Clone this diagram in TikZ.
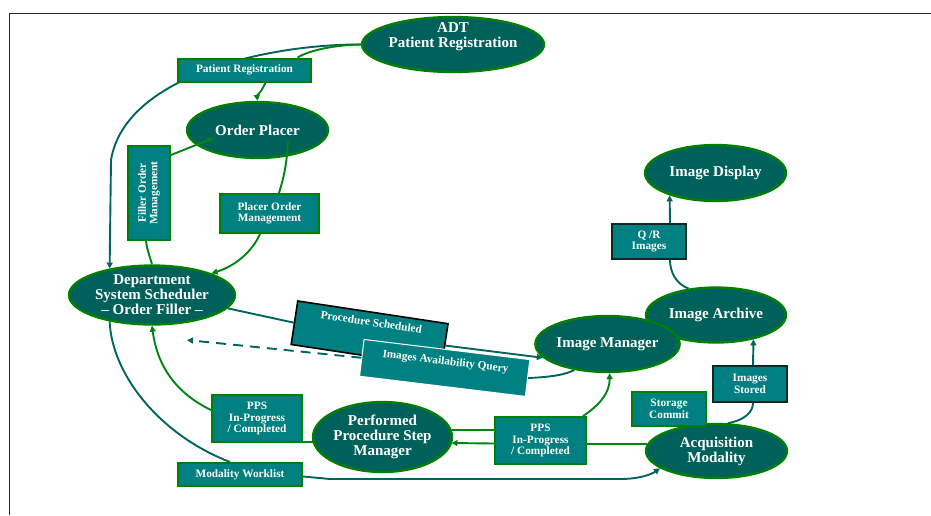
\documentclass[tikz,border=0pt]{standalone}
\usepackage{fontspec}
\setmainfont{Liberation Serif}
\usetikzlibrary{shapes.geometric,arrows.meta,calc}

\definecolor{ellfill}{RGB}{0,97,91}
\definecolor{boxfill}{RGB}{0,128,128}
\definecolor{rimgreen}{RGB}{0,128,0}
\definecolor{wireteal}{RGB}{0,102,92}
\definecolor{wiregreen}{RGB}{0,132,20}
\definecolor{darkrim}{RGB}{12,42,36}
\definecolor{framegray}{RGB}{40,40,40}

\pgfdeclarelayer{back}
\pgfsetlayers{back,main}

\begin{document}
\begin{tikzpicture}[x=1pt,y=-1pt,
  actorfont/.style={font=\bfseries\fontsize{15}{15}\selectfont},
  msgfont/.style={font=\bfseries\fontsize{11.3}{11.5}\selectfont},
  actor/.style={ellipse, draw=rimgreen, line width=2.3pt, fill=ellfill,
    text=white, inner sep=0pt, align=center, actorfont},
  msg/.style={rectangle, draw=rimgreen, line width=2pt, fill=boxfill,
    text=white, inner sep=0pt, align=center, msgfont},
  msgdark/.style={msg, draw=darkrim, line width=1.8pt},
  tealwire/.style={draw=wireteal, line width=1.9pt},
  greenwire/.style={draw=wiregreen, line width=1.9pt},
  arrowed/.style={-{Triangle[length=6pt,width=6pt]}},
]
\useasboundingbox (0,0) rectangle (931,515);

% page frame
\draw[framegray, line width=1.5pt] (9,13.5) -- (931,13.5);
\draw[framegray, line width=1.5pt] (9.5,13) -- (9.5,515);

% actors
\node[actor, minimum width=182pt, minimum height=55pt] (adt) at (453,44.5) {};
\node[text=white, actorfont, align=center] (adtlabel) at (453,37) {ADT\\Patient Registration};
\node[actor, minimum width=141pt, minimum height=56pt] (op) at (257.5,130) {Order Placer};
\node[actor, minimum width=166pt, minimum height=59pt] (dss) at (152,295) {Department\\System Scheduler\\– Order Filler –};
\node[actor, minimum width=141pt, minimum height=56pt] (disp) at (715.5,173) {Image Display};
\node[actor, minimum width=140pt, minimum height=55pt] (arch) at (716,315) {Image Archive};
\node[actor, minimum width=141pt, minimum height=56pt] (imgr) at (607.5,344) {Image Manager};
\node[actor, minimum width=139pt, minimum height=70pt] (ppsm) at (382.5,437) {Performed\\Procedure Step\\Manager};
\node[actor, minimum width=141pt, minimum height=54pt] (acq) at (716.5,451) {Acquisition\\Modality};

% transaction boxes
\node[msg, minimum width=133pt, minimum height=23pt] (bpr) at (244.5,70) {Patient Registration};
\node[msg, minimum width=42pt, minimum height=94pt] (bfom) at (149,193) {};
\node[text=white, msgfont, rotate=90, align=center] (bfomtext) at (149,193) {Filler Order\\Management};
\node[msg, minimum width=99pt, minimum height=39pt] (bpom) at (269.5,213.5) {Placer Order\\Management};
\node[msgdark, minimum width=74pt, minimum height=35pt] (bqr) at (649,241.5) {Q /R\\Images};
\node[msgdark, minimum width=74pt, minimum height=36pt] (bis) at (750,384) {Images\\Stored};
\node[msg, minimum width=74pt, minimum height=34pt] (bsc) at (669,409) {Storage\\Commit};
\node[msg, minimum width=91pt, minimum height=47pt] (bppsr) at (540.5,440.5) {PPS\\In-Progress\\/ Completed};
\node[msg, minimum width=90pt, minimum height=47pt] (bppsl) at (257,418.5) {PPS\\In-Progress\\/ Completed};
\node[msg, minimum width=124pt, minimum height=23pt] (bmw) at (240,474.5) {Modality Worklist};
\node[msg, draw=black, line width=1.6pt, rotate=-8.6, minimum width=152pt, minimum height=44pt,
  text height=7pt, text depth=23.6pt] (bps) at (369.6,334.1) {Procedure Scheduled};
\node[msg, draw=white, line width=1pt, rotate=-6.94, minimum width=167pt, minimum height=37pt,
  text height=7pt, text depth=13.4pt] (bia) at (444.7,367.9) {Images Availability Query};

% connectors running behind the boxes
\begin{pgfonlayer}{back}
\draw[tealwire, arrowed] (adt.west) .. controls (270,44) and (125,75) .. (111,160) -- (dss.148);
\draw[greenwire] (adt.west) .. controls (335,45) and (310,50) .. ($(bpr.north)+(53,0)$);
\draw[tealwire] (dss.-10) -- (bps.west);
\draw[tealwire, arrowed] (bps.east) -- (imgr.192);
\end{pgfonlayer}

% order placer / filler
\draw[greenwire, arrowed] ($(bpr.south)+(21,0)$) .. controls (262,91) and (257,96) .. (op.north);
\draw[greenwire, arrowed] ($(bfom.north east)+(0,10)$) -- ($(op.center)+(-44,8)$);
\draw[greenwire] ($(bfom.south)+(-3,0)$) .. controls (147,250) and (150,257) .. (dss.north);
\draw[greenwire] ($(op.center)+(30.5,11)$) .. controls (287,165) and (283,180) .. ($(bpom.north)+(9.5,0)$);
\draw[greenwire, arrowed] ($(bpom.south)+(-9.5,0)$) .. controls (252,252) and (235,266) .. (dss.20);

% images availability query
\coordinate (iaqend) at (187,340);
\draw[tealwire] (imgr.218) .. controls (565,375) and (550,377) .. (bia.east);
\draw[tealwire, dash pattern=on 10pt off 7pt, arrowed] (bia.west) -- (iaqend);

% archive and display
\draw[tealwire] (arch.136) .. controls (676,284) and (670,272) .. ($(bqr.south)+(21,0)$);
\draw[tealwire, arrowed] ($(bqr.north)+(21,0)$) -- (disp.206);
\draw[tealwire] (acq.68) .. controls (745,420) and (753,412) .. ($(bis.south)+(3,0)$);
\draw[tealwire, arrowed] ($(bis.north)+(3,0)$) -- (arch.-33.3);

% performed procedure step
\draw[greenwire] (acq.174) -- (acq.174 -| bppsr.east);
\draw[greenwire, arrowed] ($(bppsr.north east)+(-4,0)$) .. controls (600,405) and (610,392) .. (imgr.-86);
\draw[greenwire] ($(bppsr.west)+(0,-10.5)$) -- ($(ppsm.center)+(69,-7)$);
\draw[greenwire, arrowed] ($(bppsr.west)+(0,3)$) -- ($(ppsm.center)+(69,6)$);
\draw[greenwire] (ppsm.184) -- (ppsm.184 -| bppsl.east);
\draw[greenwire, arrowed] ($(bppsl.west)+(0,-8.5)$) .. controls (182,396) and (158,372) .. (dss.south);

% modality worklist
\draw[tealwire] (dss.212) .. controls (112,375) and (160,435) .. ($(bmw.north west)+(53,0)$);
\draw[tealwire, arrowed] ($(bmw.east)+(0,2)$) -- (330,479) -- (620,479) .. controls (640,479) and (652,474) .. (acq.197);
\end{tikzpicture}
\end{document}
